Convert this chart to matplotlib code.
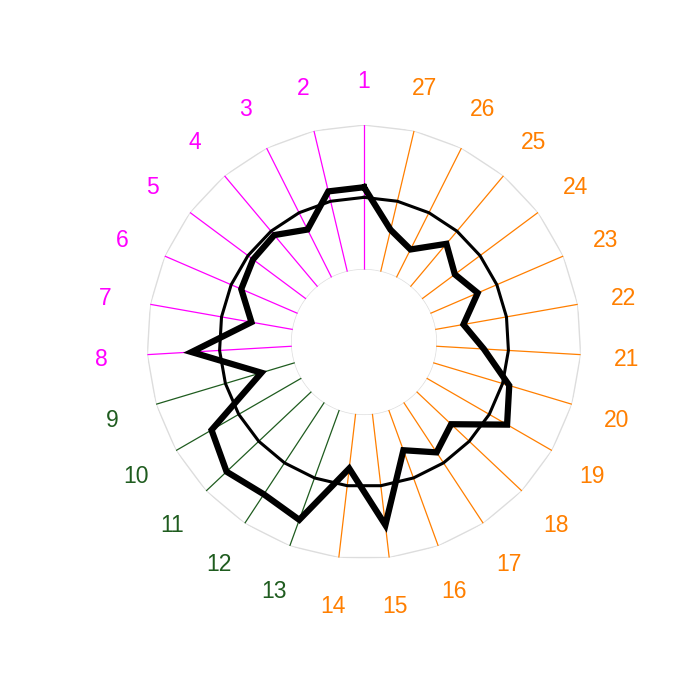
import numpy as np
import matplotlib.pyplot as plt

# 数据：27个类别，值在0~1之间
labels = [str(i) for i in range(1, 28)]
values = [0.57, 0.57, 0.37, 0.465, 0.456, 0.424, 0.29, 0.694, 0.24,
          0.717, 0.806, 0.76, 0.808, 0.38, 0.774, 0.296, 0.413, 0.328,
          0.642, 0.548, 0.33, 0.198, 0.356, 0.283, 0.386, 0.216, 0.297]
groups = ['a'] * 8 + ['b'] * 5 + ['c'] * 14
ref_level = 0.5

group_colors = {'a': '#ff00ff', 'b': '#1f5c1f', 'c': '#ff7f00'}
plt.rcParams['font.family'] = ['Liberation Sans', 'DejaVu Sans']

n = len(labels)
theta = np.arange(n) * 2 * np.pi / n

fig = plt.figure(figsize=(7, 7), dpi=100)
ax = fig.add_axes([0.21, 0.2014, 0.62, 0.62], projection='polar')
ax.set_theta_zero_location('N')
ax.set_theta_direction(1)
ax.set_ylim(0, 1)
ax.set_rorigin(-0.5)
ax.axis('off')

# 中间空洞的边
t = np.linspace(0, 2 * np.pi, 300)
ax.plot(t, np.zeros_like(t), color='#dddddd', lw=1)

# 外圈多边形
th_closed = np.append(theta, theta[0])
ax.plot(th_closed, np.ones(n + 1), color='#dddddd', lw=1)

# 放射线
for i in range(n):
    c = group_colors[groups[i]]
    ax.plot([theta[i], theta[i]], [0, 1], color=c, lw=0.9)

# 参考线 0.5
ax.plot(th_closed, np.full(n + 1, ref_level), color='black', lw=2.2)

# 数据线
v = np.append(values, values[0])
ax.plot(th_closed, v, color='black', lw=4.5, solid_joinstyle='miter')

# 标签
for i in range(n):
    ax.text(theta[i], 1.32, labels[i], color=group_colors[groups[i]],
            fontsize=16.5, ha='center', va='center_baseline')

plt.savefig('out.png', dpi=100)
